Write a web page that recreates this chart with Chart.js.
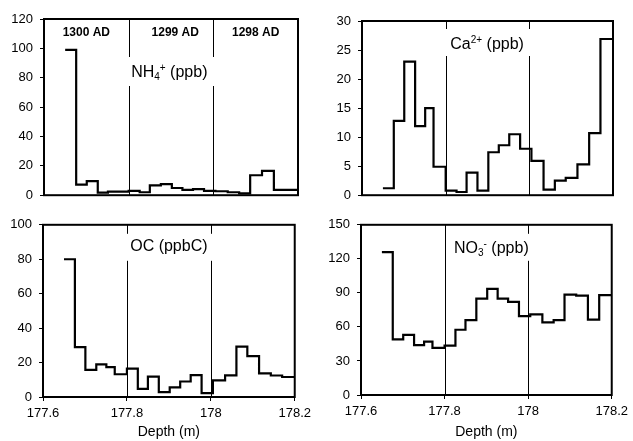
<!DOCTYPE html>
<html>
<head>
<meta charset="utf-8">
<script src="https://cdn.jsdelivr.net/npm/chart.js@4.4.0/dist/chart.umd.min.js"></script>
<style>
  html, body { margin: 0; padding: 0; background: #fff; }
  #wrap { position: relative; width: 633px; height: 441px; overflow: hidden; background: #fff; }
  canvas { position: absolute; }
</style>
</head>
<body>
<div id="wrap">
  <canvas id="nh4" width="316" height="210" style="left:0;top:0"></canvas>
  <canvas id="ca" width="317" height="210" style="left:316px;top:0"></canvas>
  <canvas id="oc" width="316" height="231" style="left:0;top:210px"></canvas>
  <canvas id="no3" width="317" height="231" style="left:316px;top:210px"></canvas>
</div>
<script>
// sample boundaries (m), shared by all four records
const depthEdges = [177.65, 177.676, 177.701, 177.727, 177.751, 177.771, 177.8, 177.826, 177.85, 177.876,
                    177.902, 177.927, 177.952, 177.978, 178.005, 178.034, 178.061, 178.087, 178.115, 178.143,
                    178.17, 178.2];

// one value per sample
const nh4 = [99, 7.2, 9.6, 1.8, 2.5, 2.5, 2.9, 2.0, 6.7, 7.6, 4.9, 3.6, 4.2, 2.9, 2.7, 2.0, 1.3, 13.6, 16.5, 3.6, 3.6];
const ca = [1.2, 12.8, 23.0, 11.9, 15.0, 4.9, 0.8, 0.55, 3.9, 0.8, 7.4, 8.6, 10.5, 8.0, 5.9, 0.95, 2.5, 3.0, 5.3, 10.7, 26.9];
const oc = [80, 29, 15.7, 18.9, 17.4, 13.2, 16.5, 4.7, 11.8, 2.8, 5.6, 9, 12.7, 2.3, 9.6, 12.6, 29.2, 23.7, 13.7, 12.5, 11.6];
const no3 = [126, 49, 53, 44, 47, 41.5, 43.5, 57.5, 66, 85, 93.5, 85, 82, 69.5, 71, 64, 66, 88.5, 87.5, 66.5, 88];

// axis ticks
const depthTicks = [177.6, 177.8, 178, 178.2];
const nh4Ticks = [0, 20, 40, 60, 80, 100, 120];
const caTicks = [0, 5, 10, 15, 20, 25, 30];
const ocTicks = [0, 20, 40, 60, 80, 100];
const no3Ticks = [0, 30, 60, 90, 120, 150];

// annual layer boundaries and year names
const yearBounds = [177.8, 178];
const years = ['1300 AD', '1299 AD', '1298 AD'];
const yearCentres = [177.7, 177.91, 178.1];

const FONT = "'Liberation Sans', Arial, sans-serif";

function stepPoints(values) {
    const pts = values.map((v, i) => ({ x: depthEdges[i], y: v }));
    pts.push({ x: depthEdges[values.length], y: values[values.length - 1] });
    return pts;
}

// species label with sub/superscripts
function drawRich(ctx, parts, cx, cy, size) {
    const small = Math.round(size * 0.65);
    const fontOf = p => (p.sub || p.sup ? small : size) + 'px ' + FONT;
    const widths = parts.map(p => { ctx.font = fontOf(p); return ctx.measureText(p.t).width; });
    const total = widths.reduce((a, b) => a + b, 0);
    let x = cx - total / 2;
    ctx.textAlign = 'left';
    ctx.textBaseline = 'middle';
    parts.forEach((p, i) => {
        ctx.font = fontOf(p);
        let dy = 0;
        if (p.sub) dy = size * 0.28;
        if (p.sup) dy = -size * 0.3;
        ctx.fillText(p.t, x, cy + dy);
        x += widths[i];
    });
    return total;
}

const panelDeco = {
    id: 'panelDeco',
    beforeDatasetsDraw(chart, args, opts) {
        const { ctx, chartArea: a, scales: { x } } = chart;
        ctx.save();
        ctx.strokeStyle = '#000';
        ctx.lineWidth = 1;
        yearBounds.forEach(d => {
            const px = Math.round(x.getPixelForValue(d)) + 0.5;
            ctx.beginPath();
            ctx.moveTo(px, a.top);
            ctx.lineTo(px, a.bottom);
            ctx.stroke();
        });

        // white box behind the label, then the label
        const cx = x.getPixelForValue(opts.labelAt);
        const cy = a.top + opts.labelDy;
        ctx.fillStyle = '#000';
        const w = drawRich(ctx, opts.label, -9999, cy, 16);
        ctx.fillStyle = '#fff';
        ctx.fillRect(cx - w / 2 - 7, cy - opts.boxUp, w + 14, opts.boxUp + opts.boxDown);
        ctx.fillStyle = '#000';
        drawRich(ctx, opts.label, cx, cy, 16);

        if (opts.years) {
            ctx.font = 'bold 12px ' + FONT;
            ctx.textAlign = 'center';
            ctx.textBaseline = 'middle';
            years.forEach((t, i) => ctx.fillText(t, x.getPixelForValue(yearCentres[i]), a.top + 14));
        }
        ctx.restore();
    },
    afterDraw(chart) {
        const { ctx, chartArea: a } = chart;
        ctx.save();
        ctx.strokeStyle = '#000';
        ctx.lineWidth = 2;
        ctx.strokeRect(a.left, a.top, a.right - a.left, a.bottom - a.top);
        ctx.restore();
    }
};

function makePanel(id, values, yTicks, deco, pad, yWidth, xHeight) {
    new Chart(document.getElementById(id), {
        type: 'line',
        data: {
            datasets: [{
                data: stepPoints(values),
                stepped: 'before',   // horizontal run first, then the jump
                borderColor: '#000',
                borderWidth: 2.2,
                pointRadius: 0,
                fill: false
            }]
        },
        options: {
            responsive: false,
            animation: false,
            devicePixelRatio: 1,
            layout: { padding: pad },
            plugins: {
                legend: { display: false },
                tooltip: { enabled: false },
                panelDeco: deco
            },
            scales: {
                x: {
                    type: 'linear',
                    display: xHeight > 0,
                    min: depthTicks[0],
                    max: depthTicks[depthTicks.length - 1],
                    afterBuildTicks: s => { s.ticks = depthTicks.map(v => ({ value: v })); },
                    afterFit: s => { s.height = xHeight; },
                    grid: { drawOnChartArea: false, color: '#000', tickLength: 4 },
                    border: { display: false },
                    ticks: {
                        color: '#000', padding: 5, maxRotation: 0, autoSkip: false,
                        font: { family: FONT, size: 13 },
                        callback: v => String(v)
                    },
                    title: {
                        display: true, text: 'Depth (m)', color: '#000',
                        font: { family: FONT, size: 14 }, padding: { top: 0, bottom: 0 }
                    }
                },
                y: {
                    min: yTicks[0],
                    max: yTicks[yTicks.length - 1],
                    afterBuildTicks: s => { s.ticks = yTicks.map(v => ({ value: v })); },
                    afterFit: s => { s.width = yWidth; },
                    grid: { drawOnChartArea: false, color: '#000', tickLength: 4 },
                    border: { display: false },
                    ticks: {
                        color: '#000', padding: 7,
                        font: { family: FONT, size: 13 },
                        callback: v => String(v)
                    }
                }
            }
        },
        plugins: [panelDeco]
    });
}

makePanel('nh4', nh4, nh4Ticks,
    { label: [{ t: 'NH' }, { t: '4', sub: true }, { t: '+', sup: true }, { t: ' (ppb)' }],
      labelAt: 177.896, labelDy: 54, boxUp: 16, boxDown: 13, years: true },
    { left: 0, right: 18, top: 19, bottom: 12 }, 44, 0);

makePanel('ca', ca, caTicks,
    { label: [{ t: 'Ca' }, { t: '2+', sup: true }, { t: ' (ppb)' }],
      labelAt: 177.899, labelDy: 24, boxUp: 16, boxDown: 11 },
    { left: 0, right: 20, top: 21, bottom: 11 }, 46, 0);

makePanel('oc', oc, ocTicks,
    { label: [{ t: 'OC (ppbC)' }],
      labelAt: 177.9, labelDy: 22, boxUp: 13, boxDown: 14 },
    { left: 0, right: 17, top: 10, bottom: 0 }, 43, 44);

makePanel('no3', no3, no3Ticks,
    { label: [{ t: 'NO' }, { t: '3', sub: true }, { t: '-', sup: true }, { t: ' (ppb)' }],
      labelAt: 177.912, labelDy: 24, boxUp: 15, boxDown: 12 },
    { left: 0, right: 19, top: 12, bottom: 0 }, 45, 46);
</script>
</body>
</html>
